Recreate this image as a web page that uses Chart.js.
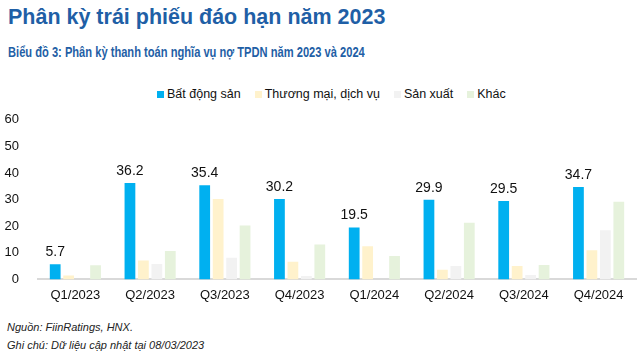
<!DOCTYPE html>
<html lang="vi">
<head>
<meta charset="utf-8">
<script src="https://cdn.jsdelivr.net/npm/chart.js@4"></script>
<style>
  html, body { margin: 0; padding: 0; background: #fff; }
  body { width: 640px; height: 361px; position: relative; overflow: hidden; font-family: "Liberation Sans", Arial, sans-serif; }
  #tieuDe { position: absolute; left: 8px; top: 4px; font-size: 22px; font-weight: bold; color: #1f5fa6; white-space: nowrap; transform-origin: left center; }
  #phuDe { position: absolute; left: 8px; top: 44px; font-size: 14px; font-weight: bold; color: #1f5fa6; white-space: nowrap; transform-origin: left center; }
  #chuGiai { position: absolute; left: 157px; top: 87px; display: flex; gap: 14px; font-size: 12.5px; color: #111; white-space: nowrap; }
  #chuGiai span { display: flex; align-items: center; }
  #chuGiai i { display: inline-block; width: 7px; height: 7px; margin-right: 3px; }
  #khung { position: absolute; left: 0; top: 101px; width: 640px; height: 202px; }
  .ghiChu { position: absolute; left: 7px; font-size: 11px; font-style: italic; color: #222; white-space: nowrap; }
</style>
</head>
<body>
<div id="tieuDe">Phân kỳ trái phiếu đáo hạn năm 2023</div>
<div id="phuDe">Biểu đồ 3: Phân kỳ thanh toán nghĩa vụ nợ TPDN năm 2023 và 2024</div>
<div id="chuGiai"></div>
<div id="khung"><canvas id="bieuDo"></canvas></div>
<div class="ghiChu" style="top:321px">Nguồn: FiinRatings, HNX.</div>
<div class="ghiChu" style="top:339px">Ghi chú: Dữ liệu cập nhật tại 08/03/2023</div>
<script>
// Dữ liệu
const quy = ['Q1/2023', 'Q2/2023', 'Q3/2023', 'Q4/2023', 'Q1/2024', 'Q2/2024', 'Q3/2024', 'Q4/2024'];
const batDongSan = [5.7, 36.2, 35.4, 30.2, 19.5, 29.9, 29.5, 34.7];
const thuongMai = [1.5, 7.1, 30.2, 6.6, 12.5, 3.6, 5.0, 11.0];
const sanXuat = [0, 5.8, 8.1, 1.3, 0, 5.0, 1.7, 18.5];
const khac = [5.3, 10.7, 20.3, 13.1, 8.8, 21.3, 5.4, 29.2];
const mocTrucY = [0, 10, 20, 30, 40, 50, 60];

const nhom = ['Bất động sản', 'Thương mại, dịch vụ', 'Sản xuất', 'Khác'];
const mau = ['#00b0f0', '#fff2cc', '#f2f2f2', '#e6f2dc'];
const font = '"Liberation Sans", Arial, sans-serif';

// Ép chiều rộng tiêu đề theo hình gốc
function epRong(id, rong) {
  const el = document.getElementById(id);
  el.style.transform = `scaleX(${rong / el.offsetWidth})`;
}
epRong('tieuDe', 377);
epRong('phuDe', 357);

// Nhãn giá trị trên cột Bất động sản
const nhanGiaTri = {
  id: 'nhanGiaTri',
  afterDatasetsDraw(chart) {
    const ctx = chart.ctx;
    const meta = chart.getDatasetMeta(0);
    ctx.save();
    ctx.font = '14px ' + font;
    ctx.fillStyle = '#111';
    ctx.textAlign = 'center';
    ctx.textBaseline = 'bottom';
    meta.data.forEach((bar, i) => {
      ctx.fillText(batDongSan[i].toFixed(1), bar.x, bar.y - 5);
    });
    ctx.restore();
  }
};

const bieuDo = new Chart(document.getElementById('bieuDo'), {
  type: 'bar',
  data: {
    labels: quy,
    datasets: [
      { label: nhom[0], data: batDongSan, backgroundColor: mau[0] },
      { label: nhom[1], data: thuongMai, backgroundColor: mau[1] },
      { label: nhom[2], data: sanXuat, backgroundColor: mau[2] },
      { label: nhom[3], data: khac, backgroundColor: mau[3] }
    ]
  },
  options: {
    responsive: true,
    maintainAspectRatio: false,
    animation: false,
    datasets: { bar: { categoryPercentage: 0.72, barPercentage: 0.8 } },
    layout: { padding: { left: 0, right: 4, top: 0, bottom: 0 } },
    plugins: {
      legend: { display: false },
      tooltip: { enabled: false }
    },
    scales: {
      x: {
        grid: { display: false },
        border: { color: '#d9d9d9', width: 2 },
        ticks: { color: '#111', font: { size: 13, family: font }, padding: 0 }
      },
      y: {
        min: 0,
        max: 60,
        afterBuildTicks: axis => { axis.ticks = mocTrucY.map(v => ({ value: v })); },
        afterFit: axis => { axis.width = 38; },
        grid: { display: false },
        border: { display: false },
        ticks: { color: '#111', font: { size: 13, family: font }, padding: 11 }
      }
    }
  },
  plugins: [nhanGiaTri]
});

// Chú giải dạng HTML
const chuGiai = document.getElementById('chuGiai');
bieuDo.data.datasets.forEach(ds => {
  const muc = document.createElement('span');
  muc.innerHTML = `<i style="background:${ds.backgroundColor}"></i>${ds.label}`;
  chuGiai.appendChild(muc);
});
</script>
</body>
</html>
